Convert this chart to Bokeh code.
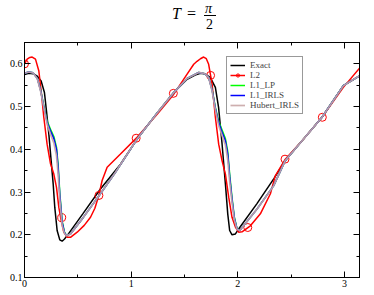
from bokeh.plotting import figure
from bokeh.models import Range1d, LinearAxis, Legend, LegendItem, FixedTicker, Div
from bokeh.layouts import column
from bokeh.embed import file_html
from bokeh.resources import INLINE

# ---- data ----
x_exact = [0, 0.04, 0.08, 0.12, 0.156, 0.187, 0.206, 0.228, 0.25, 0.269, 0.284, 0.306, 0.331, 0.353,
           0.375, 0.40, 0.55, 0.712, 0.9, 1.056, 1.25, 1.40, 1.525, 1.60, 1.65, 1.69, 1.743, 1.79, 1.82,
           1.853, 1.884, 1.906, 1.924, 1.946, 1.978, 2.01, 2.18, 2.337, 2.446, 2.62, 2.79, 2.99, 3.1416]
y_exact = [0.575, 0.578, 0.577, 0.571, 0.560, 0.533, 0.490, 0.436, 0.373, 0.319, 0.264, 0.210, 0.188, 0.185,
           0.190, 0.198, 0.250, 0.307, 0.365, 0.424, 0.487, 0.533, 0.564, 0.574, 0.578, 0.577, 0.568, 0.545, 0.498,
           0.412, 0.319, 0.249, 0.210, 0.200, 0.202, 0.214, 0.273, 0.331, 0.374, 0.425, 0.475, 0.549, 0.572]

x_l2 = [0, 0.025, 0.05, 0.072, 0.103, 0.134, 0.156, 0.181, 0.212, 0.244, 0.275, 0.30, 0.322, 0.344, 0.369,
        0.40, 0.431, 0.494, 0.56, 0.619, 0.66, 0.697, 0.728, 0.775, 0.90, 1.056, 1.244, 1.40, 1.525, 1.587,
        1.618, 1.65, 1.68, 1.705, 1.727, 1.759, 1.79, 1.821, 1.853, 1.884, 1.915, 1.946, 1.978, 2.008, 2.04,
        2.118, 2.212, 2.306, 2.352, 2.446, 2.62, 2.79, 2.99, 3.1416]
y_l2 = [0.600, 0.611, 0.615, 0.616, 0.611, 0.584, 0.537, 0.475, 0.412, 0.366, 0.342, 0.311, 0.264, 0.233, 0.206,
        0.194, 0.194, 0.206, 0.222, 0.241, 0.262, 0.292, 0.327, 0.358, 0.389, 0.428, 0.482, 0.529, 0.576, 0.599,
        0.606, 0.612, 0.616, 0.612, 0.599, 0.553, 0.475, 0.412, 0.373, 0.342, 0.288, 0.241, 0.218, 0.206, 0.207,
        0.221, 0.249, 0.296, 0.338, 0.377, 0.425, 0.475, 0.545, 0.590]
x_l2_mark = [0, 0.349, 0.698, 1.047, 1.396, 1.745, 2.094, 2.443, 2.793]
y_l2_mark = [0.600, 0.240, 0.292, 0.426, 0.531, 0.573, 0.217, 0.377, 0.475]

x_num = [0, 0.04, 0.08, 0.12, 0.15, 0.181, 0.212, 0.244, 0.275, 0.30, 0.316, 0.331, 0.353, 0.375, 0.394,
         0.431, 0.55, 0.712, 0.85, 1.056, 1.25, 1.40, 1.525, 1.634, 1.69, 1.727, 1.759, 1.79, 1.821, 1.853,
         1.884, 1.906, 1.924, 1.946, 1.968, 1.993, 2.018, 2.18, 2.337, 2.446, 2.62, 2.79, 2.99, 3.1416]
y_l1_lp = [0.578, 0.581, 0.579, 0.566, 0.540, 0.502, 0.466, 0.447, 0.430, 0.405, 0.362, 0.298, 0.232, 0.206, 0.198,
           0.202, 0.240, 0.296, 0.345, 0.424, 0.487, 0.533, 0.566, 0.580, 0.577, 0.568, 0.540, 0.498, 0.465, 0.445,
           0.425, 0.395, 0.342, 0.287, 0.241, 0.215, 0.210, 0.260, 0.315, 0.374, 0.425, 0.475, 0.549, 0.572]
y_l1_irls = [0.578, 0.581, 0.579, 0.566, 0.539, 0.500, 0.463, 0.443, 0.425, 0.400, 0.355, 0.293, 0.229, 0.205, 0.198,
             0.202, 0.240, 0.296, 0.345, 0.424, 0.487, 0.533, 0.566, 0.580, 0.577, 0.568, 0.539, 0.496, 0.462, 0.440,
             0.420, 0.389, 0.336, 0.283, 0.239, 0.214, 0.210, 0.260, 0.315, 0.374, 0.425, 0.475, 0.549, 0.572]
y_hubert = [0.578, 0.581, 0.579, 0.565, 0.537, 0.498, 0.459, 0.435, 0.415, 0.385, 0.340, 0.282, 0.222, 0.203, 0.198,
            0.202, 0.240, 0.296, 0.345, 0.424, 0.487, 0.533, 0.566, 0.580, 0.577, 0.568, 0.537, 0.492, 0.455, 0.432,
            0.410, 0.375, 0.325, 0.276, 0.235, 0.213, 0.210, 0.260, 0.315, 0.374, 0.425, 0.475, 0.549, 0.572]

x_major = [0, 1, 2, 3]
x_minor = [0.5, 1.5, 2.5]
y_major = [0.1, 0.2, 0.3, 0.4, 0.5, 0.6]
y_minor = [0.15, 0.25, 0.35, 0.45, 0.55, 0.65]

FONT = "Liberation Serif"

p = figure(width=374, height=254, x_range=Range1d(0, 3.1416), y_range=Range1d(0.1, 0.65),
           output_backend="svg", toolbar_location=None,
           min_border_left=24, min_border_right=15, min_border_top=1, min_border_bottom=18,
           x_axis_location=None, y_axis_location=None)
p.grid.visible = False
p.outline_line_color = "black"
p.background_fill_color = "white"
p.border_fill_color = "white"


def style_axis(ax):
    ax.major_tick_out = 0
    ax.minor_tick_out = 0
    ax.axis_line_color = "black"
    ax.major_tick_line_color = "black"
    ax.minor_tick_line_color = "black"
    ax.major_label_text_font = FONT
    ax.major_label_text_color = "black"
    ax.major_label_text_font_size = "10px"
    ax.major_label_standoff = 2
    return ax


def label_axis(ticks, minor):
    ax = style_axis(LinearAxis(ticker=FixedTicker(ticks=ticks, minor_ticks=minor)))
    ax.major_tick_in = 6
    ax.minor_tick_in = 3
    return ax


def tick_only_axis(positions, length):
    # a mirror axis without labels: the positions are drawn as (unlabelled) minor ticks
    ax = style_axis(LinearAxis(ticker=FixedTicker(ticks=[], minor_ticks=positions)))
    ax.major_tick_in = 0
    ax.minor_tick_in = length
    ax.major_label_standoff = 0
    return ax


p.add_layout(label_axis(x_major, x_minor), "below")
p.add_layout(label_axis(y_major, y_minor), "left")
p.add_layout(tick_only_axis(x_major, 6), "above")
p.add_layout(tick_only_axis(x_minor, 3), "above")
p.add_layout(tick_only_axis(y_major, 6), "right")
p.add_layout(tick_only_axis(y_minor, 3), "right")

r_exact = p.line(x_exact, y_exact, line_color="black", line_width=1.5)
r_l2 = p.line(x_l2, y_l2, line_color="red", line_width=1.5)
r_l2m = p.scatter(x_l2_mark, y_l2_mark, marker="circle", size=8, fill_color=None,
                  line_color="red", line_width=1)
r_lp = p.line(x_num, y_l1_lp, line_color="#00ff00", line_width=1.5)
r_irls = p.line(x_num, y_l1_irls, line_color="blue", line_width=1.5)
r_hub = p.line(x_num, y_hubert, line_color="#c9a6a6", line_width=1.7, line_alpha=0.9)

legend = Legend(items=[
    LegendItem(label="Exact", renderers=[r_exact]),
    LegendItem(label="L2", renderers=[r_l2, r_l2m]),
    LegendItem(label="L1_LP", renderers=[r_lp]),
    LegendItem(label="L1_IRLS", renderers=[r_irls]),
    LegendItem(label="Hubert_IRLS", renderers=[r_hub]),
], location=(202, 163))
legend.label_text_font = FONT
legend.label_text_font_size = "9px"
legend.label_height = 8
legend.glyph_height = 8
legend.glyph_width = 15
legend.label_standoff = 5
legend.spacing = 0
legend.padding = 3
legend.margin = 0
legend.border_line_color = "#333333"
legend.border_line_width = 1
legend.background_fill_alpha = 1
p.add_layout(legend, "center")

SERIF = "font-family:'Liberation Serif','Times New Roman',serif !important;"
title_html = (
    '<div style="position:relative;width:374px;height:41px;color:black;' + SERIF + '">'
    '<span style="position:absolute;left:172px;top:5px;font-size:16px;line-height:normal;font-style:italic;'
    + SERIF + '">T</span>'
    '<span style="position:absolute;left:187px;top:5px;font-size:16px;line-height:normal;'
    + SERIF + '">=</span>'
    '<span style="position:absolute;left:205px;top:1px;font-size:14px;line-height:normal;font-style:italic;'
    + SERIF + '">&pi;</span>'
    '<span style="position:absolute;left:204px;top:15px;width:12px;height:1px;background:black;"></span>'
    '<span style="position:absolute;left:206px;top:17px;font-size:14px;line-height:normal;'
    + SERIF + '">2</span>'
    '</div>'
)
title = Div(text=title_html, width=374, height=41, margin=0,
            styles={"font-family": "'Liberation Serif', serif"})

layout = column(title, p, spacing=0)
open("out.html", "w").write(file_html(layout, INLINE))
